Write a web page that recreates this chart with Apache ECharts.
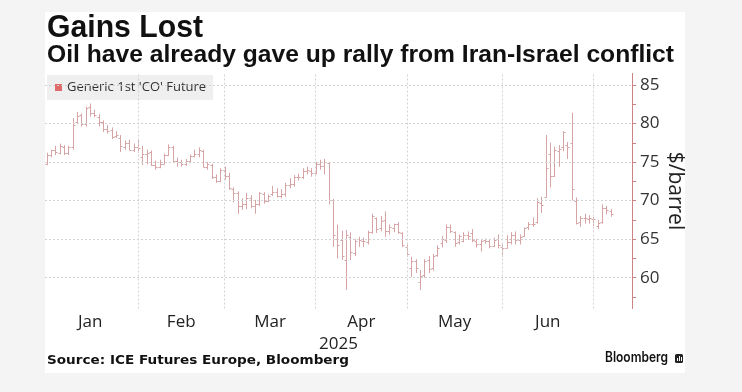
<!DOCTYPE html>
<html>
<head>
<meta charset="utf-8">
<script src="https://cdn.jsdelivr.net/npm/echarts@6/dist/echarts.min.js"></script>
<style>
html,body{margin:0;padding:0;background:#f4f4f4;}
#chart{width:742px;height:392px;}
</style>
</head>
<body>
<div id="chart"></div>
<script>
// ---- DATA ----
const dates = [
'2025-01-02','2025-01-03','2025-01-06','2025-01-07','2025-01-08','2025-01-09','2025-01-10','2025-01-13','2025-01-14','2025-01-15',
'2025-01-16','2025-01-17','2025-01-20','2025-01-21','2025-01-22','2025-01-23','2025-01-24','2025-01-27','2025-01-28','2025-01-29',
'2025-01-30','2025-01-31','2025-02-03','2025-02-04','2025-02-05','2025-02-06','2025-02-07','2025-02-10','2025-02-11','2025-02-12',
'2025-02-13','2025-02-14','2025-02-17','2025-02-18','2025-02-19','2025-02-20','2025-02-21','2025-02-24','2025-02-25','2025-02-26',
'2025-02-27','2025-02-28','2025-03-03','2025-03-04','2025-03-05','2025-03-06','2025-03-07','2025-03-10','2025-03-11','2025-03-12',
'2025-03-13','2025-03-14','2025-03-17','2025-03-18','2025-03-19','2025-03-20','2025-03-21','2025-03-24','2025-03-25','2025-03-26',
'2025-03-27','2025-03-28','2025-03-31','2025-04-01','2025-04-02','2025-04-03','2025-04-04','2025-04-07','2025-04-08','2025-04-09',
'2025-04-10','2025-04-11','2025-04-14','2025-04-15','2025-04-16','2025-04-17','2025-04-21','2025-04-22','2025-04-23','2025-04-24',
'2025-04-25','2025-04-28','2025-04-29','2025-04-30','2025-05-01','2025-05-02','2025-05-05','2025-05-06','2025-05-07','2025-05-08',
'2025-05-09','2025-05-12','2025-05-13','2025-05-14','2025-05-15','2025-05-16','2025-05-19','2025-05-20','2025-05-21','2025-05-22',
'2025-05-23','2025-05-26','2025-05-27','2025-05-28','2025-05-29','2025-05-30','2025-06-02','2025-06-03','2025-06-04','2025-06-05',
'2025-06-06','2025-06-09','2025-06-10','2025-06-11','2025-06-12','2025-06-13','2025-06-16','2025-06-17','2025-06-18','2025-06-19',
'2025-06-20','2025-06-23','2025-06-24','2025-06-25','2025-06-26','2025-06-27','2025-06-30','2025-07-01','2025-07-02','2025-07-03',
'2025-07-04'
];
const openP = [
74.8,75.9,76.6,76.2,77.0,76.2,77.0,80.2,81.1,79.9, 82.1,81.3,80.9,80.2,79.3,79.1,78.4,78.1,77.0,77.5,
76.6,76.9,75.7,76.0,76.3,74.6,74.3,74.8,75.9,77.0, 75.2,75.0,74.8,75.2,75.8,76.0,76.4,74.4,74.6,73.0,
72.6,74.0,73.2,71.5,71.0,69.3,69.5,70.3,69.3,69.6, 70.9,69.9,70.8,71.1,70.6,70.8,72.0,72.2,73.1,73.0,
73.8,73.9,73.6,74.7,74.5,74.9,70.1,65.0,64.9,62.3, 65.3,63.2,65.0,64.8,64.6,65.9,67.7,66.4,67.5,66.1,
66.4,66.9,65.8,64.0,61.3,62.2,59.5,60.3,62.3,61.2, 62.9,64.5,64.9,66.6,65.9,64.6,64.8,65.5,65.8,64.8,
64.4,64.9,64.7,64.1,65.0,64.0,63.9,64.6,65.6,64.9, 65.4,66.6,66.9,67.2,69.7,70.5,76.0,73.2,76.4,76.9,
77.2,77.5,70.0,67.2,67.7,67.6,67.6,66.7,67.2,69.1, 68.6
];
const highP = [
76.2,76.6,77.1,77.4,77.2,77.1,80.7,81.5,81.3,82.2, 82.6,81.8,81.2,80.4,79.8,79.5,79.0,78.5,77.8,77.9,
77.4,78.0,77.1,76.6,76.5,75.2,75.3,76.1,77.3,77.1, 75.6,75.3,75.4,76.0,76.6,76.9,76.6,75.0,74.8,73.4,
74.2,74.4,73.6,71.7,71.2,70.3,71.0,70.7,70.1,71.1, 71.1,70.8,71.9,71.6,71.5,72.3,72.9,73.3,73.5,74.2,
74.4,74.2,75.0,75.3,75.4,75.0,70.2,66.9,66.1,66.2, 65.9,65.0,65.3,65.2,66.1,68.3,67.8,68.0,68.6,66.9,
67.0,67.2,65.9,64.3,62.7,62.4,61.0,62.4,62.8,63.1, 64.2,65.4,66.9,66.9,66.0,65.6,65.9,66.0,66.3,65.0,
64.9,65.1,64.9,65.2,65.6,64.3,65.5,65.9,66.0,65.6, 66.5,67.2,67.8,70.3,70.5,78.5,77.5,77.0,77.2,79.0,
77.6,81.4,70.4,68.0,68.3,68.1,67.9,67.5,69.5,69.3, 68.9
];
const lowP = [
74.6,75.6,75.9,76.0,75.9,75.9,76.6,79.9,79.6,79.6, 80.9,80.8,79.6,78.9,78.7,78.0,78.1,76.3,76.6,76.5,
76.3,76.2,74.6,74.7,74.5,74.0,74.2,74.7,75.8,74.9, 74.4,74.4,74.5,74.9,75.6,75.6,74.3,74.0,72.8,72.3,
72.4,72.7,71.4,69.8,68.3,68.8,68.9,69.0,68.3,69.3, 69.6,69.8,70.6,70.4,70.3,70.5,71.6,71.8,72.6,72.8,
73.4,73.1,73.4,74.0,73.4,69.5,64.0,62.5,62.3,58.4, 62.3,62.8,64.0,64.0,64.3,65.7,65.8,66.0,65.3,65.6,
65.9,65.7,64.0,62.7,60.1,60.6,58.4,60.0,60.6,60.9, 62.7,63.9,64.5,65.8,64.0,64.3,64.6,64.9,64.6,63.9,
63.4,64.4,63.8,64.0,63.8,62.7,63.8,64.3,64.3,64.3, 65.3,66.2,66.6,67.0,68.4,70.4,71.7,73.1,74.4,76.4,
75.4,70.0,66.9,66.6,67.0,67.0,66.7,66.3,67.0,68.2, 67.9
];
const closeP = [
75.9,76.5,76.3,77.1,76.2,76.9,79.8,81.0,79.9,82.0, 81.3,81.1,80.2,79.3,79.0,78.3,78.5,77.1,77.5,76.6,
76.9,76.8,76.0,76.2,74.6,74.3,74.7,75.9,77.0,75.2, 75.0,74.7,75.2,75.8,76.0,76.5,74.4,74.8,73.0,72.5,
74.0,73.2,71.6,71.0,69.3,69.5,70.4,69.3,69.6,71.0, 69.9,70.6,71.1,70.6,70.8,72.0,72.2,73.0,73.0,73.8,
74.0,73.6,74.7,74.5,75.0,70.1,65.6,64.2,62.8,65.5, 63.3,64.8,64.9,64.7,65.9,68.0,66.3,67.4,66.1,66.6,
66.9,65.9,64.3,63.1,62.1,61.3,60.2,62.2,61.1,62.8, 63.9,65.0,66.6,66.1,64.5,65.4,65.5,65.4,64.9,64.4,
64.8,64.7,64.1,64.9,64.2,63.9,64.6,65.6,64.9,65.3, 66.5,67.0,66.9,69.8,69.4,74.2,73.2,76.5,76.7,78.9,
77.0,71.5,67.1,67.7,67.7,67.8,67.6,67.1,69.1,68.8, 68.3
];
const monthNames = ['Jan','Feb','Mar','Apr','May','Jun'];
const yLabelValues = [60, 65, 70, 75, 80, 85];
const yTickValues = [57.5, 60, 62.5, 65, 67.5, 70, 72.5, 75, 77.5, 80, 82.5, 85];
const seriesName = "Generic 1st 'CO' Future";
const yearLabel = '2025';

// ---- BUILD ----
const ohlc = dates.map((d, i) => [i, openP[i], highP[i], lowP[i], closeP[i]]);
const monthLast = [];
dates.forEach((d, i) => {
  const m = parseInt(d.slice(5, 7), 10) - 1;
  monthLast[m] = i;
});
const boundaries = monthNames.map((n, m) => monthLast[m]);
const labelPos = monthNames.map((n, m) => ((m === 0 ? -1 : monthLast[m - 1]) + monthLast[m]) / 2);
const labelMap = {};
labelPos.forEach((p, m) => { labelMap[p] = monthNames[m]; });

const barColor = '#d6a4a4';
const gridColor = '#d2d2d2';

const cv = document.createElement('canvas').getContext('2d');
function fitScale(text, font, target) { cv.font = font; return target / cv.measureText(text).width; }
const titleFont = 'bold 31px "Liberation Sans"';
const subFont = 'bold 23px "Liberation Sans"';
const srcFont = 'bold 13px "DejaVu Sans"';
const bbgFont = '600 14px "Inter"';
const titleText = 'Gains Lost';
const subText = 'Oil have already gave up rally from Iran-Israel conflict';
const srcText = 'Source: ICE Futures Europe, Bloomberg';

const chart = echarts.init(document.getElementById('chart'), null, {renderer: 'canvas'});
chart.setOption({
  backgroundColor: '#f4f4f4',
  animation: false,
  grid: {left: 45, right: 110, top: 73.4, bottom: 83.5},
  legend: {
    left: 47, top: 75,
    padding: [6, 7, 6, 8],
    backgroundColor: '#efefef',
    itemWidth: 7, itemHeight: 7,
    itemGap: 5,
    textStyle: {fontFamily: '"Open Sans"', fontSize: 13, color: '#333'},
    data: [{name: seriesName, icon: 'rect', itemStyle: {color: '#e06a6a'}}]
  },
  xAxis: {
    type: 'value', min: -0.4, max: 134.9,
    axisLine: {show: false, onZero: false}, axisTick: {show: false}, splitLine: {show: false},
    axisLabel: {
      customValues: labelPos,
      formatter: v => labelMap[v] || '',
      fontFamily: '"Open Sans"', fontSize: 17, color: '#222', margin: 5
    },
    name: yearLabel, nameLocation: 'middle', nameGap: 25,
    nameTextStyle: {fontFamily: '"Open Sans"', fontSize: 17, color: '#222'}
  },
  yAxis: {
    type: 'value', position: 'right', min: 56, max: 86.5,
    axisLine: {show: true, onZero: false, lineStyle: {color: '#cc8282', width: 1}},
    axisTick: {show: true, customValues: yTickValues, length: 4, lineStyle: {color: '#cc8282'}},
    axisLabel: {customValues: yLabelValues, fontFamily: '"Open Sans"', fontSize: 17, color: '#333', margin: 8},
    splitLine: {show: false},
    name: '$/barrel', nameLocation: 'middle', nameRotate: -90, nameGap: 32, nameMoveOverlap: false,
    nameTextStyle: {fontFamily: '"Open Sans"', fontSize: 21, color: '#222'}
  },
  graphic: [
    {type: 'rect', z: -10, silent: true, shape: {x: 45, y: 12, width: 640, height: 361}, style: {fill: '#ffffff'}},
    {type: 'text', x: 47, y: 28, scaleX: fitScale(titleText, titleFont, 156),
      style: {text: titleText, font: titleFont, fill: '#111', verticalAlign: 'middle'}},
    {type: 'text', x: 47, y: 56, scaleX: fitScale(subText, subFont, 627),
      style: {text: subText, font: subFont, fill: '#111', verticalAlign: 'middle'}},
    {type: 'text', x: 47, y: 361, scaleX: fitScale(srcText, srcFont, 302),
      style: {text: srcText, font: srcFont, fill: '#111', verticalAlign: 'middle'}},
    {type: 'text', x: 605, y: 358, scaleX: fitScale('Bloomberg', bbgFont, 63),
      style: {text: 'Bloomberg', font: bbgFont, fill: '#111', verticalAlign: 'middle'}},
    {type: 'rect', shape: {x: 675, y: 354, width: 8, height: 9, r: 1.5}, style: {fill: '#222'}},
    {type: 'rect', shape: {x: 677, y: 358, width: 1, height: 3}, style: {fill: '#fff'}},
    {type: 'rect', shape: {x: 679, y: 356, width: 1, height: 5}, style: {fill: '#fff'}},
    {type: 'rect', shape: {x: 681, y: 357, width: 1, height: 4}, style: {fill: '#fff'}}
  ],
  series: [
    {
      type: 'line', data: [], z: 1, silent: true,
      markLine: {
        silent: true, symbol: 'none', animation: false,
        label: {show: false},
        lineStyle: {color: gridColor, type: [2, 2], width: 1},
        data: yLabelValues.map(v => ({yAxis: v})).concat(boundaries.map(b => ({xAxis: b})))
      }
    },
    {
      name: seriesName,
      type: 'custom', z: 3,
      itemStyle: {color: barColor},
      data: ohlc,
      encode: {x: 0, y: [1, 2, 3, 4]},
      renderItem: function (params, api) {
        const i = api.value(0);
        const po = api.coord([i, api.value(1)]);
        const ph = api.coord([i, api.value(2)]);
        const pl = api.coord([i, api.value(3)]);
        const pc = api.coord([i, api.value(4)]);
        const x = Math.round(po[0]) + 0.5;
        const yo = Math.round(po[1]) + 0.5;
        const yc = Math.round(pc[1]) + 0.5;
        const st = {stroke: barColor, lineWidth: 1};
        return {
          type: 'group',
          children: [
            {type: 'line', shape: {x1: x, y1: ph[1], x2: x, y2: pl[1]}, style: st},
            {type: 'line', shape: {x1: x - 2, y1: yo, x2: x, y2: yo}, style: st},
            {type: 'line', shape: {x1: x, y1: yc, x2: x + 2, y2: yc}, style: st}
          ]
        };
      }
    }
  ]
});
</script>
</body>
</html>
